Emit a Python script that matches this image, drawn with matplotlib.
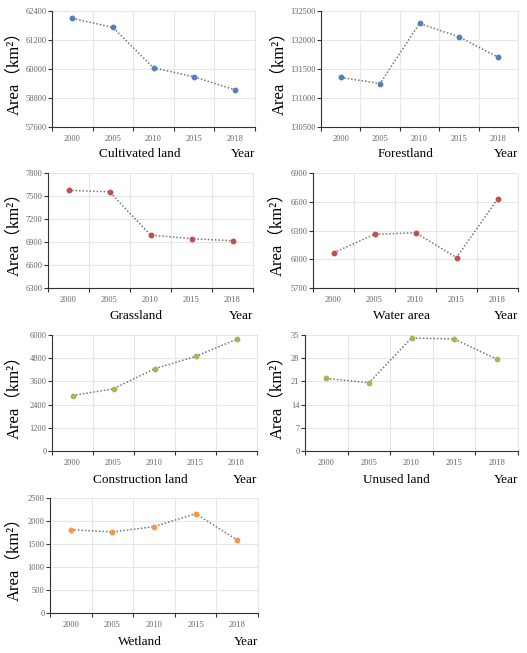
import numpy as np
import matplotlib
matplotlib.use("Agg")
from matplotlib import pyplot as plt
from matplotlib.ticker import FixedLocator

years = ["2000", "2005", "2010", "2015", "2018"]

cultivated = [62100, 61720, 60050, 59675, 59140]
forest = [131355, 131250, 132285, 132055, 131700]
grass = [7573, 7555, 6991, 6943, 6917]
water = [6067, 6260, 6277, 6018, 6627]
construction = [2870, 3216, 4254, 4893, 5775]
unused = [21.9, 20.6, 34.1, 33.8, 27.7]
wetland = [1812, 1761, 1877, 2159, 1587]

names = ["Cultivated land", "Forestland", "Grassland", "Water area",
         "Construction land", "Unused land", "Wetland"]
series = [cultivated, forest, grass, water, construction, unused, wetland]
yticks = [
    [57600, 58800, 60000, 61200, 62400],
    [130500, 131000, 131500, 132000, 132500],
    [6300, 6600, 6900, 7200, 7500, 7800],
    [5700, 6000, 6300, 6600, 6900],
    [0, 1200, 2400, 3600, 4800, 6000],
    [0, 7, 14, 21, 28, 35],
    [0, 500, 1000, 1500, 2000, 2500],
]
colors = ["#4F81BD", "#4F81BD", "#C0504D", "#C0504D",
          "#9BBB59", "#9BBB59", "#F79646"]

W, H = 527, 653
# left, right, top, bottom in pixels
boxes = [
    (52, 255, 11, 127),
    (321, 518, 11, 127),
    (48, 253, 173, 288),
    (313, 518, 173, 288),
    (52, 257, 335, 451),
    (305, 518, 335, 451),
    (50, 258, 498, 613),
]
label_y = [154, 154, 316, 316, 480, 480, 642]
ylab_x = [14, 279, 14, 277, 14, 277, 14]

serif = ["Liberation Serif", "Noto Sans CJK SC"]

fig = plt.figure(figsize=(W / 100, H / 100), dpi=100)

for i in range(7):
    l, r, t, b = boxes[i]
    ax = fig.add_axes([l / W, 1 - b / H, (r - l) / W, (b - t) / H])
    x = np.arange(len(years))
    ax.plot(x, series[i], linestyle=(0, (1, 1.3)), color="#777777", lw=1.1,
            zorder=3)
    ax.plot(x, series[i], "o", color=colors[i], ms=3.2, zorder=4)
    ax.set_xlim(-0.5, 4.5)
    ax.set_ylim(yticks[i][0], yticks[i][-1])
    ax.set_yticks(yticks[i])
    ax.xaxis.set_major_locator(FixedLocator(np.arange(-0.5, 5, 1)))
    ax.xaxis.set_minor_locator(FixedLocator(x))
    ax.set_xticklabels([])
    ax.set_xticklabels(years, minor=True)
    ax.tick_params(axis="x", which="major", length=3, width=0.8,
                   color="#333333", direction="out")
    ax.tick_params(axis="x", which="minor", length=0, pad=6,
                   labelsize=6, labelcolor="#666666")
    ax.tick_params(axis="y", length=3, width=0.8, color="#333333",
                   labelsize=6, labelcolor="#666666", pad=1)
    for lab in ax.get_xticklabels(minor=True) + ax.get_yticklabels():
        lab.set_family(serif)
    ax.grid(True, axis="y", color="#e6e6e6", lw=0.8)
    ax.grid(True, axis="x", which="major", color="#e6e6e6", lw=0.8)
    ax.spines["top"].set_visible(False)
    ax.spines["right"].set_color("#e6e6e6")
    ax.spines["left"].set_color("#333333")
    ax.spines["bottom"].set_color("#333333")
    ax.set_axisbelow(True)

    fig.text(ylab_x[i] / W, 1 - (t + b) / 2 / H, "Area（km²）",
             rotation=90, ha="center", va="center", fontsize=12,
             family=serif)
    fig.text((l + 0.43 * (r - l)) / W, 1 - label_y[i] / H, names[i],
             ha="center", va="center", fontsize=9.5, family=serif)
    fig.text(r / W, 1 - label_y[i] / H, "Year",
             ha="right", va="center", fontsize=9.5, family=serif)

fig.savefig("out.png", dpi=100)
